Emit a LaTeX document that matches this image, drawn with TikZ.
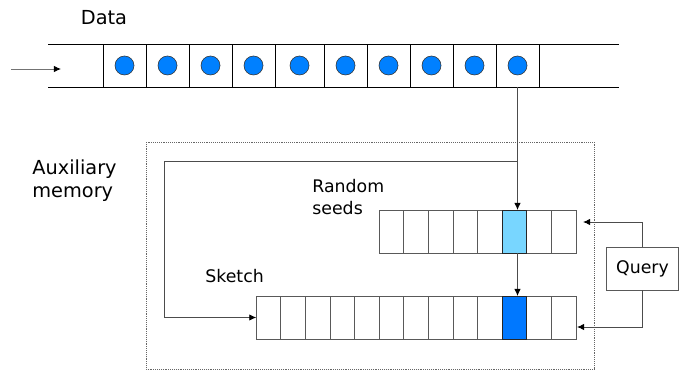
\documentclass[tikz,border=0pt]{standalone}
\usepackage{fontspec}
\setmainfont{DejaVu Sans}
\usetikzlibrary{arrows.meta}
\definecolor{dotblue}{HTML}{0080FF}
\definecolor{seedblue}{HTML}{78D6FF}
\definecolor{sketchblue}{HTML}{0078FF}

\begin{document}
\begin{tikzpicture}[x=0.03cm, y=-0.03cm, line width=0.8pt,
  cell/.style={draw=black!65, inner sep=0pt, outer sep=0pt,
    minimum width=24.6*0.03cm, minimum height=43*0.03cm},
  dot/.style={circle, draw=black!80, line width=0.5pt, fill=dotblue,
    inner sep=0pt, minimum size=19*0.03cm},
  big/.style={font=\fontsize{16.5}{19.5}\selectfont, align=left},
  small/.style={font=\fontsize{14.8}{19.5}\selectfont, align=left},
  link/.style={draw=black!70, -{Latex[length=6pt,width=5.5pt,color=black]}}]
\useasboundingbox (0,0) rectangle (679,370);

% incoming stream
\node[big] (data) at (104,18) {Data};
\draw (48,44) -- (619,44);
\draw (48,87) -- (619,87);
\foreach \x/\w [count=\i] in {124.5/43, 167.5/43, 210.5/43, 253.5/43, 299.5/49,
    345.5/43, 388.5/43, 431.5/43, 474.5/43, 517.5/43} {
  \node[cell, draw=black, minimum width=\w*0.03cm] (d\i) at (\x,65.5) {};
  \node[dot] (p\i) at (d\i) {};
}
\coordinate (src) at (11,69);
\coordinate (srcend) at (61,69);
\draw[link, draw=black!55] (src) -- (srcend);

% memory block
\draw[densely dotted, black!60, line width=0.6pt] (146,142) rectangle (594,369);
\node[big, anchor=west] (aux) at (28,181) {Auxiliary\\memory};

\foreach \i in {1,...,8}
  \node[cell] (s\i) at ({379.3+24.6*(\i-0.5)},231.5) {};
\draw[black!85, fill=seedblue] (s6.south west) rectangle (s6.north east);
\node[small, anchor=west] (seedlbl) at (308,197) {Random\\seeds};

\foreach \i in {1,...,13}
  \node[cell] (k\i) at ({256.3+24.6*(\i-0.5)},317.5) {};
\draw[black!85, fill=sketchblue] (k11.south west) rectangle (k11.north east);
\node[small, anchor=west] (sketchlbl) at (201,276) {Sketch};

\node[draw=black!65, small, minimum width=72*0.03cm, minimum height=43*0.03cm]
  (query) at (642.5,268.5) {Query};

% connectors
\coordinate (fork) at (517.5,161);
\coordinate (back) at (164,161);
\coordinate (seedin) at (583,222);
\coordinate (sketchin) at (577,327);
\draw[link] (d10.south) -- (d10.south |- s6.north);
\draw[link] (fork) -- (back) |- (k1.west);
\draw[link] (d10.south |- s6.south) -- (d10.south |- k11.north);
\draw[link] (query.north) |- (seedin);
\draw[link] (query.south) |- (sketchin);
\end{tikzpicture}
\end{document}
